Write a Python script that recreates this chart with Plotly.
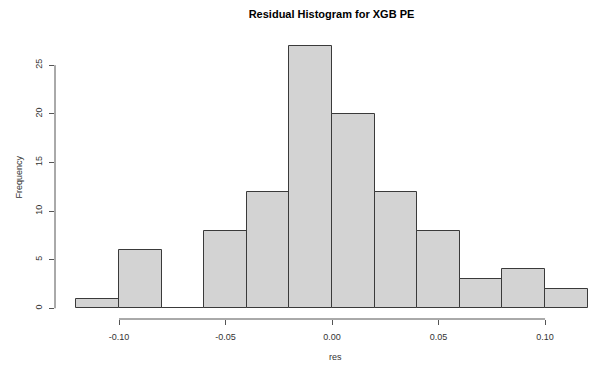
import plotly.graph_objects as go

# Data: histogram bin edges and counts
bin_edges = [-0.12, -0.10, -0.08, -0.06, -0.04, -0.02, 0.00, 0.02, 0.04, 0.06, 0.08, 0.10, 0.12]
counts = [1, 6, 0, 8, 12, 27, 20, 12, 8, 3, 4, 2]
x_ticks = [-0.10, -0.05, 0.00, 0.05, 0.10]
x_tick_labels = ["-0.10", "-0.05", "0.00", "0.05", "0.10"]
y_ticks = [0, 5, 10, 15, 20, 25]
y_tick_labels = ["0", "5", "10", "15", "20", "25"]

centers = [(a + b) / 2 for a, b in zip(bin_edges[:-1], bin_edges[1:])]
widths = [b - a for a, b in zip(bin_edges[:-1], bin_edges[1:])]

W, H = 597, 369
L, R = 55, 593
T, B = 36, 319

FONT = "Liberation Sans, Arial, sans-serif"

fig = go.Figure()
fig.add_trace(go.Bar(
    x=centers, y=counts, width=widths,
    marker=dict(color="#d3d3d3", line=dict(color="#3a3a3a", width=1)),
    hoverinfo="x+y",
))

fig.update_layout(
    width=W, height=H,
    margin=dict(l=L, r=W - R, t=T, b=H - B, pad=0, autoexpand=False),
    paper_bgcolor="white", plot_bgcolor="white",
    showlegend=False,
    bargap=0,
    font=dict(family=FONT, size=9, color="#333333"),
    title=dict(
        text="<b>Residual Histogram for XGB PE</b>",
        x=331.5 / W, xref="container", xanchor="center",
        y=1 - 14 / H, yref="container", yanchor="middle",
        font=dict(family=FONT, size=11, color="black"),
        automargin=False,
    ),
    xaxis=dict(
        range=[-0.13005, 0.1225],
        tickvals=x_ticks, ticktext=x_tick_labels,
        ticks="outside", ticklen=5, tickcolor="#555555", tickwidth=1,
        showgrid=False, zeroline=False, showline=False,
        ticklabelstandoff=4, automargin=False,
        fixedrange=True,
    ),
    yaxis=dict(
        range=[-1.1, 28],
        tickvals=y_ticks, ticktext=y_tick_labels,
        tickangle=-90,
        ticks="outside", ticklen=5, tickcolor="#555555", tickwidth=1,
        showgrid=False, zeroline=False, showline=False,
        ticklabelstandoff=3, automargin=False,
        fixedrange=True,
    ),
    shapes=[
        dict(type="line", xref="x", yref="paper", x0=x_ticks[0], x1=x_ticks[-1], y0=0, y1=0,
             line=dict(color="#555555", width=1)),
        dict(type="line", xref="paper", yref="y", x0=0, x1=0, y0=y_ticks[0], y1=y_ticks[-1],
             line=dict(color="#555555", width=1)),
    ],
    annotations=[
        dict(text="res", xref="paper", yref="paper",
             x=(335 - L) / (R - L), y=-(356.5 - B) / (B - T),
             xanchor="center", yanchor="middle", showarrow=False,
             font=dict(family=FONT, size=9, color="#333333")),
        dict(text="Frequency", xref="paper", yref="paper",
             x=-(L - 18) / (R - L), y=0.5, textangle=-90,
             xanchor="center", yanchor="middle", showarrow=False,
             font=dict(family=FONT, size=9, color="#333333")),
    ],
)

fig.write_html(
    "out.html",
    config={"displayModeBar": False},
    post_script="document.body.style.margin='0';document.body.style.overflow='hidden';",
)
